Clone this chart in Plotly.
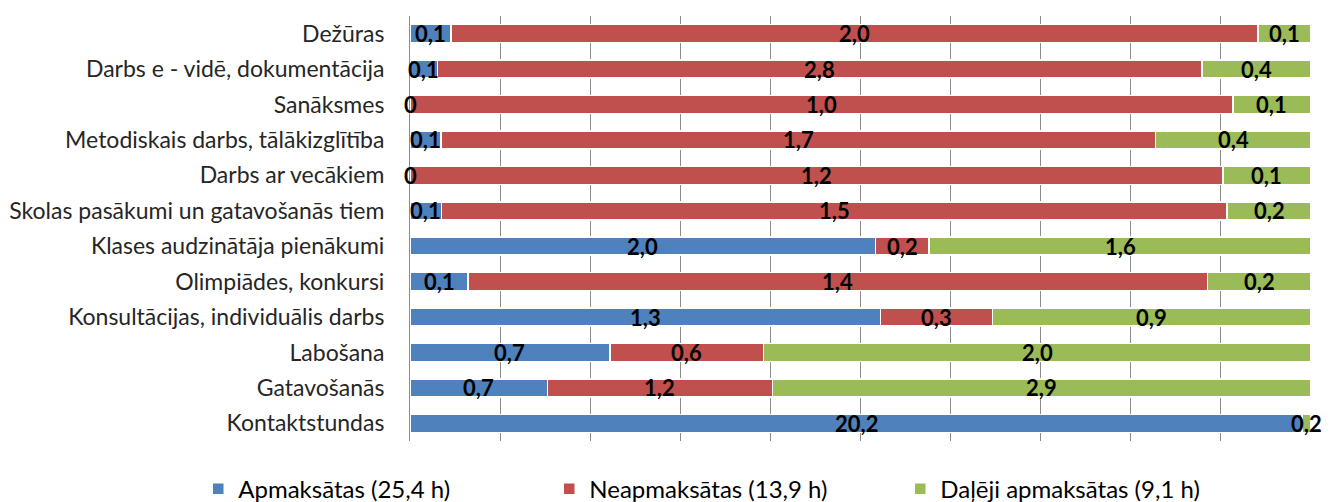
import plotly.graph_objects as go

categories = [
    "Kontaktstundas",
    "Gatavošanās",
    "Labošana",
    "Konsultācijas, individuālis darbs",
    "Olimpiādes, konkursi",
    "Klases audzinātāja pienākumi",
    "Skolas pasākumi un gatavošanās tiem",
    "Darbs ar vecākiem",
    "Metodiskais darbs, tālākizglītība",
    "Sanāksmes",
    "Darbs e - vidē, dokumentācija",
    "Dežūras",
]

apmaksatas = [20.2, 0.74, 0.73, 1.3, 0.11, 2.0, 0.06, 0.0, 0.074, 0.0, 0.1, 0.1]
neapmaksatas = [None, 1.21, 0.56, 0.31, 1.4, 0.23, 1.5, 1.2, 1.7, 1.0, 2.8, 1.97]
daleji = [0.2, 2.9, 2.0, 0.88, 0.196, 1.64, 0.16, 0.13, 0.37, 0.095, 0.4, 0.13]

series_names = ["Apmaksātas (25,4 h)", "Neapmaksātas (13,9 h)", "Daļēji apmaksātas (9,1 h)"]
series_values = [apmaksatas, neapmaksatas, daleji]
colors = ["#4F81BD", "#C0504D", "#9BBB59"]

FONT = "Lato, 'Liberation Sans', sans-serif"
LABEL_FONT = dict(family=FONT, size=22, color="black", weight="bold")
BARGAP = 0.49


def fmt(v):
    if v == 0:
        return "0"
    return f"{v:.1f}".replace(".", ",")


fig = go.Figure()
for name, vals, col in zip(series_names, series_values, colors):
    fig.add_trace(go.Bar(
        y=categories,
        x=vals,
        name=name,
        orientation="h",
        marker=dict(color=col, line=dict(color="white", width=1.5)),
        hoverinfo="skip",
    ))

# data labels, centred on each segment (positions in the normalised % scale)
for i, cat in enumerate(categories):
    row = [s[i] for s in series_values]
    total = sum(v for v in row if v is not None)
    cum = 0.0
    for v in row:
        if v is None:
            continue
        share = v / total * 100
        fig.add_annotation(
            x=cum + share / 2, y=cat, xref="x", yref="y", text=fmt(v),
            showarrow=False, xanchor="center", yanchor="middle", font=LABEL_FONT,
        )
        cum += share

n = len(categories)

fig.update_layout(
    width=1335,
    height=502,
    barmode="stack",
    barnorm="percent",
    bargap=BARGAP,
    plot_bgcolor="white",
    paper_bgcolor="white",
    margin=dict(l=402, r=32, t=8, b=69, autoexpand=False),
    font=dict(family=FONT, size=20, color="black"),
    legend=dict(
        orientation="h",
        x=-0.235,
        xanchor="left",
        y=-0.113,
        yanchor="middle",
        traceorder="normal",
        entrywidth=306,
        font=dict(family=FONT, size=24, color="black"),
    ),
    xaxis=dict(
        range=[0, 100],
        dtick=10,
        showgrid=True,
        gridcolor="#8c8c8c",
        gridwidth=1,
        showticklabels=False,
        zeroline=False,
        showline=False,
        fixedrange=True,
    ),
    yaxis=dict(
        range=[-0.5, n - 0.5],
        showline=True,
        linecolor="#8c8c8c",
        linewidth=1,
        ticks="",
        ticklabelstandoff=20,
        tickfont=dict(family=FONT, size=23, color="#262626"),
        showgrid=False,
    ),
)

fig.write_html("out.html")
